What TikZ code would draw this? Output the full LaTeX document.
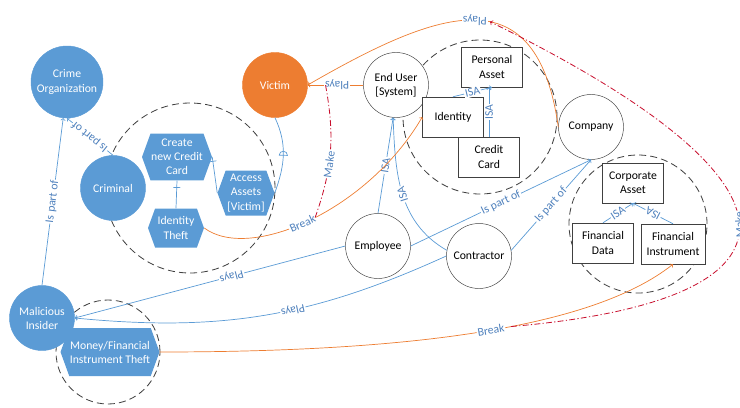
\documentclass[tikz,border=0pt]{standalone}
\usepackage{fontspec}
\setmainfont{Carlito}
\usepackage{xcolor}
\usetikzlibrary{shapes.symbols,decorations.markings}

\definecolor{msblue}{HTML}{5B9BD5}
\definecolor{msorange}{HTML}{ED7D31}
\definecolor{lblblue}{HTML}{4F81BD}
\definecolor{makered}{HTML}{C8102E}

\tikzset{
  actor/.style={circle, fill=msblue, draw=msblue, text=white, minimum size=19.5mm, inner sep=1pt, align=center},
  role/.style={circle, draw=black!75, fill=white, minimum size=19.5mm, inner sep=1pt, align=center},
  asset/.style={rectangle, draw=black!75, fill=white, minimum width=18.3mm, minimum height=12mm, inner sep=1pt, align=center},
  attack/.style={signal, signal to=east and west, signal pointer angle=140, fill=msblue, text=white, inner sep=0.5pt, align=center},
  group/.style={circle, draw=black!75, line width=0.7pt, dash pattern=on 6pt off 3.5pt, inner sep=0pt},
  rel/.style={draw=msblue, line width=0.6pt, ->},
  link/.style={draw=msblue, line width=0.6pt},
  brk/.style={draw=msorange, line width=0.6pt, ->},
  make/.style={draw=makered, line width=0.7pt, dash pattern=on 5pt off 2pt on 1pt off 2pt},
  lbl/.style={fill=white, inner sep=0.8pt, text=lblblue, sloped, allow upside down},
  tick/.style={postaction={decorate, decoration={markings, mark=at position #1 with {\draw[-, solid] (0,-3pt) -- (0,3pt);}}}},
  dome/.style={postaction={decorate, decoration={markings, mark=at position #1 with {\draw[-, solid] (0,-3.5pt) arc[start angle=-90, end angle=90, radius=3.5pt] -- cycle;}}}}
}

\begin{document}
\begin{tikzpicture}[x=0.3mm, y=0.3mm]
		\useasboundingbox (0,0) rectangle (740,-407);
		% Dashed groups
		\node[group, minimum size=51mm] (grpcrime) at (190,-188) {};
		\node[group, minimum size=46.2mm] (grpuser) at (480,-117) {};
		\node[group, minimum size=41.4mm] (grpcorp) at (638,-224) {};
		\node[group, minimum size=31.2mm] (grpmoney) at (108,-352) {};
		%
		% Attackers and victim
		\node[actor, minimum size=21.6mm] (crimeorg) at (67,-82) {Crime\\Organization};
		\node[actor, fill=msorange, draw=msorange] (victim) at (275,-85) {Victim};
		\node[actor] (criminal) at (113,-188) {Criminal};
		\node[actor] (insider) at (42,-318) {Malicious\\Insider};
		%
		% Attacks
		\node[attack, minimum width=21mm, minimum height=14mm] (newcard) at (177,-157) {Create\\new Credit\\Card};
		\node[attack, minimum width=17.1mm, minimum height=13.5mm] (access) at (246,-193) {Access\\Assets\\{[Victim]}};
		\node[attack, minimum width=16.8mm, minimum height=11.7mm] (idtheft) at (176,-228) {Identity\\Theft};
		\node[attack, minimum width=28.5mm, minimum height=14.4mm] (moneytheft) at (110,-352) {Money/Financial\\Instrument Theft};
		%
		% Roles
		\node[role] (enduser) at (396,-85) {End User\\{[System]}};
		\node[role] (company) at (591,-127) {Company};
		\node[role] (employee) at (378,-246) {Employee};
		\node[role] (contractor) at (479,-256) {Contractor};
		%
		% Assets
		\node[asset] (personal) at (492,-67) {Personal\\Asset};
		\node[asset] (identity) at (453,-117) {Identity};
		\node[asset] (credit) at (489,-157) {Credit\\Card};
		\node[asset] (corpasset) at (633,-183) {Corporate\\Asset};
		\node[asset] (findata) at (603,-243) {Financial\\Data};
		\node[asset, minimum width=19.2mm] (fininst) at (673,-244) {Financial\\Instrument};
		%
		% Drawing the edges
		%% Is part of
		\draw[rel] (criminal.north) -- node[lbl] {Is part of} (crimeorg.south);
		\draw[rel] (insider.north) -- node[lbl] {Is part of} (crimeorg.-96);
		\draw[rel] (employee.east) -- node[lbl] {Is part of} (company.south);
		\draw[rel] (contractor.10) -- node[lbl] {Is part of} (company.south);
		%% ISA
		\draw[rel] (employee.north) -- node[lbl] {ISA} (enduser.-95);
		\draw[rel] (contractor.170) to[out=150, in=-88] node[lbl, pos=.5] {ISA} (enduser.-95);
		\draw[rel] (identity.north) -- node[lbl] {ISA} (personal.south);
		\draw[rel] (credit.north) -- node[lbl] {ISA} (credit.north |- personal.south);
		\draw[rel] (findata.north) -- node[lbl] {ISA} (corpasset.south);
		\draw[rel] (fininst.north) -- node[lbl] {ISA} (corpasset.south);
		%% Plays
		\draw[rel] (employee.west) -- node[lbl, pos=.42] {Plays} (insider.east);
		\draw[rel] (contractor.west) to[bend left=15] node[lbl, pos=.42] {Plays} (insider.east);
		\draw[brk] (enduser.west) -- node[lbl, pos=.47] {Plays} coordinate[pos=.68] (playsA) (victim.east);
		\draw[brk] (company.west) to[out=98, in=30, looseness=1.55] node[lbl] {Plays} coordinate[pos=.44] (playsB) (victim.east);
		%% Attack steps
		\draw[link, tick=.25] (newcard.south) -- (idtheft.north);
		\draw[link, tick=.12] (newcard.east) -- (access.west);
		\draw[link, dome=.5] (access.east) to[out=70, in=-65] (victim.south);
		%% Break
		\draw[brk] (idtheft.east) .. controls (250,-262) and (368,-210) .. node[lbl, pos=.47] {Break} coordinate[pos=.52] (breakA) (identity.west);
		\draw[brk] (moneytheft.east) .. controls (400,-352) and (590,-330) .. node[lbl, pos=.53] {Break} coordinate[pos=.57] (breakB) (fininst.south);
		%% Make
		\draw[make] (breakA) to[bend right=15] node[lbl, pos=.4] {Make} (playsA);
		\draw[make, ->] (breakB) .. controls (819,-300) and (819,-183) .. node[lbl] {Make} (playsB);
\end{tikzpicture}
\end{document}
